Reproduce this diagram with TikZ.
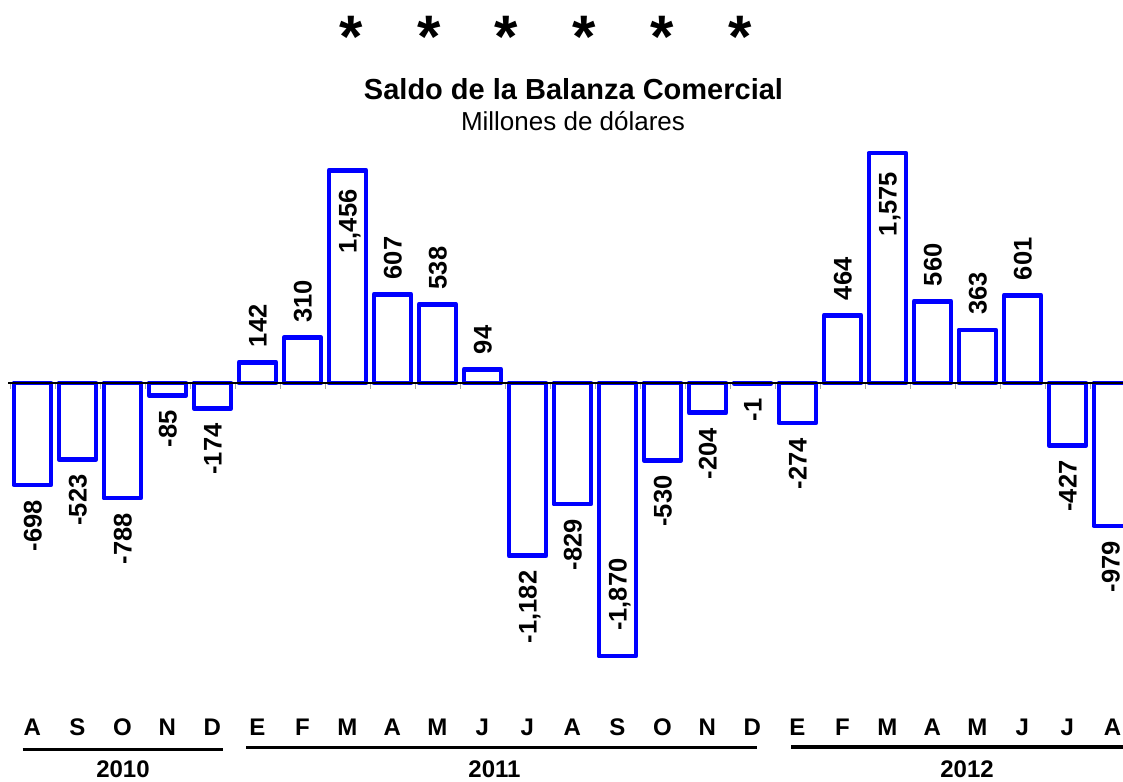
\documentclass[tikz,border=0pt]{standalone}
\usepackage{fontspec}
\setmainfont{Liberation Sans}
\definecolor{barblue}{RGB}{0,0,255}
\begin{document}
\begin{tikzpicture}[x=1pt,y=-1pt,
  barstyle/.style={draw=barblue,line width=4.8pt,line join=round},
  vlabel/.style={font=\fontsize{25.5pt}{26pt}\selectfont\bfseries,rotate=90,inner sep=0pt,text height=18.4pt,text depth=0pt},
  month/.style={font=\fontsize{24pt}{26pt}\selectfont\bfseries,inner sep=0pt,anchor=base},
  yearline/.style={line width=3pt,black},
  tickmark/.style={draw=gray!70,line width=1pt},
  astx/.style={font=\fontsize{60pt}{60pt}\selectfont\bfseries,inner sep=0pt,anchor=base}]
\useasboundingbox (0,0) rectangle (1123,781);
\clip (0,0) rectangle (1123,781);
% title
\foreach \k in {0,...,5} \node[astx] (ast\k) at ({351+77.8*\k},58) {*};
\node[font=\fontsize{29pt}{30pt}\selectfont\bfseries,anchor=base,inner sep=0pt] (title) at (573.5,100) {Saldo de la Balanza Comercial};
\node[font=\fontsize{26pt}{27pt}\selectfont,anchor=base,inner sep=0pt] (subtitle) at (573,131) {Millones de dólares};
% ticks
\foreach \i in {0,...,24} \draw[tickmark] ({10+45*\i},383) -- ({10+45*\i},389);
% bars and labels
\foreach \v/\t/\k [count=\i from 0] in {
 -698/-698/2, -523/-523/2, -788/-788/2, -85/-85/2, -174/-174/2,
 142/142/1, 310/310/1, 1456/{1,456}/3, 607/607/1, 538/538/1, 94/94/1,
 -1182/{-1,182}/2, -829/-829/2, -1870/{-1,870}/4, -530/-530/2, -204/-204/2, -1/-1/2,
 -274/-274/2, 464/464/1, 1575/{1,575}/3, 560/560/1, 363/363/1, 601/601/1,
 -427/-427/2, -979/-979/2}
{
  \pgfmathsetmacro\xl{13.9+45*\i}
  \pgfmathsetmacro\xr{51.0+45*\i}
  \pgfmathsetmacro\xc{min(32.4+45*\i,1110.5)}
  \pgfmathsetmacro\yt{383-0.146*\v}
  \draw[barstyle] (\xl,383) rectangle (\xr,\yt);
  \ifcase\k\or
    \node[vlabel,anchor=west] (lab\i) at (\xc,\yt-15) {\t};
  \or
    \node[vlabel,anchor=east] (lab\i) at (\xc,\yt+15) {\t};
  \or
    \node[vlabel,anchor=east] (lab\i) at (\xc,\yt+19) {\t};
  \or
    \node[vlabel,anchor=west] (lab\i) at (\xc,\yt-25) {\t};
  \fi
}
% axis
\draw[line width=1.2pt] (8,383) -- (1123,383);
% months
\foreach \m [count=\i from 0] in {A,S,O,N,D,E,F,M,A,M,J,J,A,S,O,N,D,E,F,M,A,M,J,J,A}
  \node[month] (m\i) at ({32.4+45*\i},735) {\m};
% year lines and years
\draw[yearline] (22.7,749) -- (222.7,749);
\draw[yearline] (246,747) -- (757,747);
\draw[yearline,line width=3.5pt] (791,747) -- (1123,747);
\node[month] (y2010) at (123,777) {2010};
\node[month] (y2011) at (494.5,777) {2011};
\node[month] (y2012) at (967,777) {2012};
\end{tikzpicture}
\end{document}
